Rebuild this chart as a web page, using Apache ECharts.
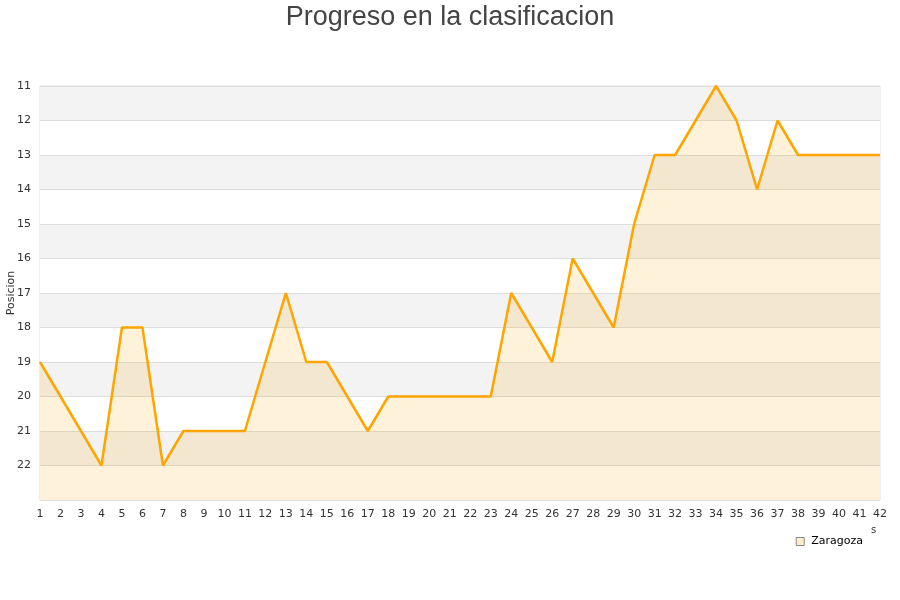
<!DOCTYPE html>
<html><head><meta charset="utf-8">
<script src="https://cdn.jsdelivr.net/npm/echarts@6/dist/echarts.min.js"></script>
<style>html,body{margin:0;padding:0;background:#fff}#c{width:900px;height:600px}</style>
</head><body><div id="c"></div>
<script>
const jornadas = [1,2,3,4,5,6,7,8,9,10,11,12,13,14,15,16,17,18,19,20,21,22,23,24,25,26,27,28,29,30,31,32,33,34,35,36,37,38,39,40,41,42];
const zaragoza = [19,20,21,22,18,18,22,21,21,21,21,19,17,19,19,20,21,20,20,20,20,20,20,17,18,19,16,17,18,15,13,13,12,11,12,14,12,13,13,13,13,13];
const yTicks = [11,12,13,14,15,16,17,18,19,20,21,22];

const chart = echarts.init(document.getElementById('c'));
chart.setOption({
  animation:false,
  title:{text:'Progreso en la clasificacion',left:'center',top:-1,
    textStyle:{fontFamily:'Liberation Sans',fontSize:27,fontWeight:'normal',color:'#444'}},
  grid:{left:40,right:20,top:86,bottom:100,containLabel:false,outerBoundsMode:'none',show:true,borderColor:'#ddd',borderWidth:1,backgroundColor:'transparent'},
  legend:{right:32,top:531,icon:'rect',itemWidth:8,itemHeight:8,itemGap:6,
    textStyle:{fontFamily:'DejaVu Sans',fontSize:11,color:'#000',padding:[0,0,0,2]},
    data:[{name:'Zaragoza',itemStyle:{color:'#ffecc9',borderColor:'#888',borderWidth:1}}]},
  xAxis:{type:'category',data:jornadas,boundaryGap:false,
    axisLine:{show:false},axisTick:{show:false},
    axisLabel:{fontFamily:'DejaVu Sans',fontSize:11,color:'#333',margin:9,interval:0},
    splitLine:{show:false}},
  yAxis:{type:'value',inverse:true,min:11,max:23,interval:1,
    name:'Posicion',nameLocation:'middle',nameGap:23,nameMoveOverlap:false,
    nameTextStyle:{fontFamily:'DejaVu Sans',fontSize:11,color:'#333'},
    axisLine:{show:false},axisTick:{show:false},
    axisLabel:{fontFamily:'DejaVu Sans',fontSize:11,color:'#333',margin:9,
      formatter:v=>yTicks.includes(v)?String(v):''},
    splitLine:{show:true,lineStyle:{color:'#ddd'}},
    splitArea:{show:true,areaStyle:{color:['#f3f3f3','#ffffff']}}},
  graphic:[{type:'text',left:871,top:525,style:{text:'s',fontFamily:'DejaVu Sans',fontSize:10,fill:'#333'}}],
  series:[{name:'Zaragoza',type:'line',data:zaragoza,symbol:'none',
    lineStyle:{color:'#ffa500',width:2.5},itemStyle:{color:'#ffa500'},
    areaStyle:{color:'rgba(255,165,0,0.2)',origin:'end'}}]
});
</script></body></html>
